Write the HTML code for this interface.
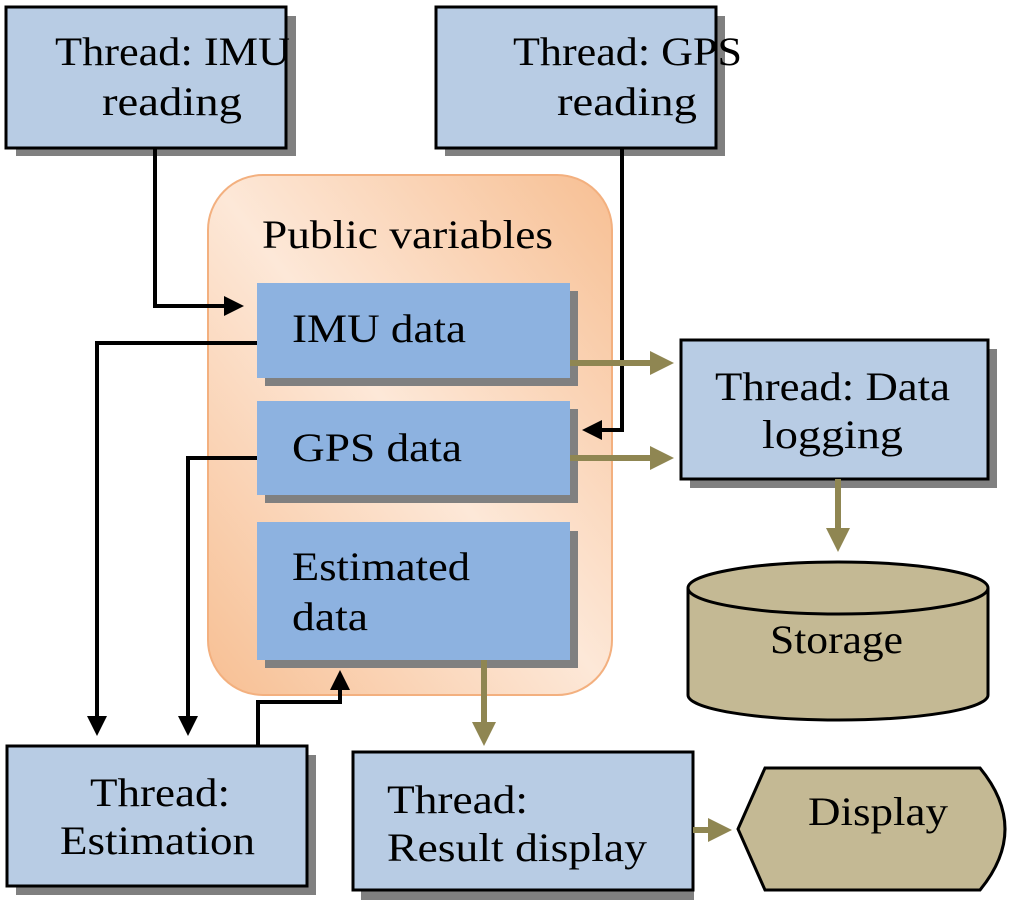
<!DOCTYPE html>
<html><head><style>body{margin:0;background:#fff}svg{display:block}text{font-family:"Liberation Serif",serif;fill:#000;font-size:40px}</style></head>
<body>
<svg width="1024" height="907" viewBox="0 0 1024 907" xmlns="http://www.w3.org/2000/svg">
<defs>
<linearGradient id="og" x1="1" y1="0" x2="0" y2="1">
<stop offset="0" stop-color="#f7bf93"/><stop offset="0.5" stop-color="#fde8d8"/><stop offset="1" stop-color="#f7bf93"/>
</linearGradient>
<marker id="ab" markerWidth="5" markerHeight="5" refX="3.5" refY="2.5" orient="auto" markerUnits="strokeWidth"><path d="M0,0 L5,2.5 L0,5z" fill="#000"/></marker>
<marker id="ao" markerWidth="4" markerHeight="4" refX="3" refY="2" orient="auto" markerUnits="strokeWidth"><path d="M0,0 L4,2 L0,4z" fill="#8f8652"/></marker>
</defs>
<rect x="208" y="175" width="404" height="520" rx="55" fill="url(#og)" stroke="#f3b07f" stroke-width="2"/>
<text x="262" y="248" textLength="291" lengthAdjust="spacingAndGlyphs">Public variables</text>
<rect x="265" y="291" width="313" height="95" fill="#808080"/><rect x="257" y="283" width="313" height="95" fill="#8db2e0"/>
<text x="292" y="342" textLength="174" lengthAdjust="spacingAndGlyphs">IMU  data</text>
<rect x="265" y="409" width="313" height="94" fill="#808080"/><rect x="257" y="401" width="313" height="94" fill="#8db2e0"/>
<text x="292" y="461" textLength="170" lengthAdjust="spacingAndGlyphs">GPS  data</text>
<rect x="265" y="531" width="313" height="137" fill="#808080"/><rect x="257" y="522" width="313" height="138" fill="#8db2e0"/>
<text x="292" y="580" textLength="178" lengthAdjust="spacingAndGlyphs">Estimated</text><text x="292" y="630" textLength="76" lengthAdjust="spacingAndGlyphs">data</text>
<g stroke="#000" stroke-width="3">
<rect x="16" y="16" width="280" height="140" fill="#808080" stroke="none"/><rect x="6" y="7" width="280" height="141" fill="#b8cce4"/>
<rect x="445" y="16" width="280" height="140" fill="#808080" stroke="none"/><rect x="436" y="7" width="280" height="141" fill="#b8cce4"/>
<rect x="690" y="349" width="307" height="139" fill="#808080" stroke="none"/><rect x="681" y="340" width="307" height="139" fill="#b8cce4"/>
<rect x="16" y="755" width="300" height="140" fill="#808080" stroke="none"/><rect x="7" y="746" width="300" height="140" fill="#b8cce4"/>
<rect x="361" y="760" width="333" height="140" fill="#808080" stroke="none"/><rect x="353" y="752" width="340" height="138" fill="#b8cce4"/>
</g>
<text x="55" y="65" textLength="235" lengthAdjust="spacingAndGlyphs">Thread: IMU</text><text x="102" y="115" textLength="140" lengthAdjust="spacingAndGlyphs">reading</text>
<text x="513" y="65" textLength="229" lengthAdjust="spacingAndGlyphs">Thread: GPS</text><text x="557" y="115" textLength="140" lengthAdjust="spacingAndGlyphs">reading</text>
<text x="715" y="400" textLength="235" lengthAdjust="spacingAndGlyphs">Thread: Data</text><text x="762" y="448" textLength="141" lengthAdjust="spacingAndGlyphs">logging</text>
<text x="90" y="806" textLength="140" lengthAdjust="spacingAndGlyphs">Thread:</text><text x="60" y="854" textLength="195" lengthAdjust="spacingAndGlyphs">Estimation</text>
<text x="387" y="813" textLength="141" lengthAdjust="spacingAndGlyphs">Thread:</text><text x="387" y="861" textLength="260" lengthAdjust="spacingAndGlyphs">Result display</text>
<path d="M688,588 L688,695 A150,25 0 0 0 988,695 L988,588" fill="#c4b994" stroke="#000" stroke-width="3"/>
<ellipse cx="838" cy="588" rx="150" ry="26" fill="#c4b994" stroke="#000" stroke-width="3"/>
<text x="770" y="653" textLength="133" lengthAdjust="spacingAndGlyphs">Storage</text>
<path d="M765,768 L980,768 Q1030,829 980,890 L765,890 L738,829 Z" fill="#c4b994" stroke="#000" stroke-width="3"/>
<text x="808" y="825" textLength="140" lengthAdjust="spacingAndGlyphs">Display</text>
<g fill="none" stroke="#000" stroke-width="4">
<polyline points="155,148 155,306 238,306" marker-end="url(#ab)"/>
<polyline points="257,343 97,343 97,730" marker-end="url(#ab)"/>
<polyline points="257,458 188,458 188,730" marker-end="url(#ab)"/>
<polyline points="258,746 258,702 340,702 340,676" marker-end="url(#ab)"/>
<polyline points="622,148 622,430 588,430" marker-end="url(#ab)"/>
</g>
<g fill="none" stroke="#8f8652" stroke-width="6">
<line x1="570" y1="363" x2="668" y2="363" marker-end="url(#ao)"/>
<line x1="570" y1="458" x2="668" y2="458" marker-end="url(#ao)"/>
<line x1="838" y1="479" x2="838" y2="546" marker-end="url(#ao)"/>
<line x1="484" y1="660" x2="484" y2="740" marker-end="url(#ao)"/>
<line x1="693" y1="830" x2="726" y2="830" marker-end="url(#ao)"/>
</g>
</svg>
</body></html>
